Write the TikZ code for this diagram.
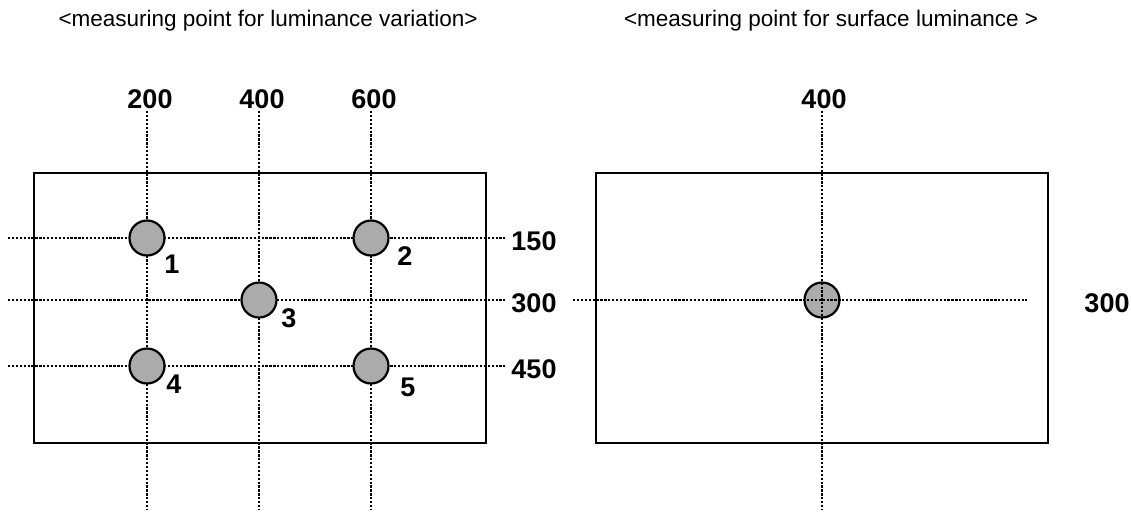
\documentclass[tikz,border=0pt]{standalone}
\usepackage{fontspec}
\setmainfont{Liberation Sans}
\usetikzlibrary{positioning}

\tikzset{
  grid/.style={line width=2.3pt,dash pattern=on 2.3pt off 1.6pt},
  frame/.style={draw,line width=2.2pt},
  spot/.style={circle,draw,line width=2.2pt,fill=black!33,minimum size=35pt,inner sep=0pt},
  num/.style={font=\fontsize{27}{27}\selectfont\bfseries},
  title/.style={font=\fontsize{22.5}{22.5}\selectfont}
}

\begin{document}
\begin{tikzpicture}[x=1pt,y=-1pt]
    \useasboundingbox (0,0) rectangle (1131,512);
    % titles
    \node[title] (tL) at (268,21) {<measuring point for luminance variation>};
    \node[title] (tR) at (831,21) {<measuring point for surface luminance >};
    % left panel
    \draw[frame] (34,173) rectangle (486,443);
    \node[num] (x200) at (150,99) {200};
    \node[num] (x400) at (262,99) {400};
    \node[num] (x600) at (374,99) {600};
    \node[num] (y150) at (534,241) {150};
    \node[num] (y300) at (534,303) {300};
    \node[num] (y450) at (534,369) {450};
    \coordinate (v1a) at (147,111); \coordinate (v1b) at (147,510);
    \coordinate (v2a) at (259,111); \coordinate (v2b) at (259,510);
    \coordinate (v3a) at (371,111); \coordinate (v3b) at (371,510);
    \coordinate (h1a) at (8,238); \coordinate (h1b) at (505,238);
    \coordinate (h2a) at (8,300); \coordinate (h2b) at (505,300);
    \coordinate (h3a) at (8,366); \coordinate (h3b) at (505,366);
    \draw[grid] (v1a) -- (v1b) (v2a) -- (v2b) (v3a) -- (v3b);
    \draw[grid] (h1a) -- (h1b) (h2a) -- (h2b) (h3a) -- (h3b);
    \node[spot] (p1) at (147,238) {};
    \node[spot] (p2) at (371,238) {};
    \node[spot] (p3) at (259,300) {};
    \node[spot] (p4) at (147,366) {};
    \node[spot] (p5) at (371,366) {};
    \node[num] (n1) at (172,264) {1};
    \node[num] (n2) at (405,256) {2};
    \node[num] (n3) at (289,318) {3};
    \node[num] (n4) at (174,384) {4};
    \node[num] (n5) at (408,387) {5};
    % right panel
    \draw[frame] (596,173) rectangle (1048,443);
    \node[num] (c400) at (824,99) {400};
    \node[num] (c300) at (1107,303) {300};
    \node[spot] (pc) at (822,300) {};
    \coordinate (vca) at (822,111); \coordinate (vcb) at (822,510);
    \coordinate (hca) at (573,300); \coordinate (hcb) at (1027,300);
    \draw[grid] (vca) -- (vcb) (hca) -- (hcb);
\end{tikzpicture}
\end{document}
